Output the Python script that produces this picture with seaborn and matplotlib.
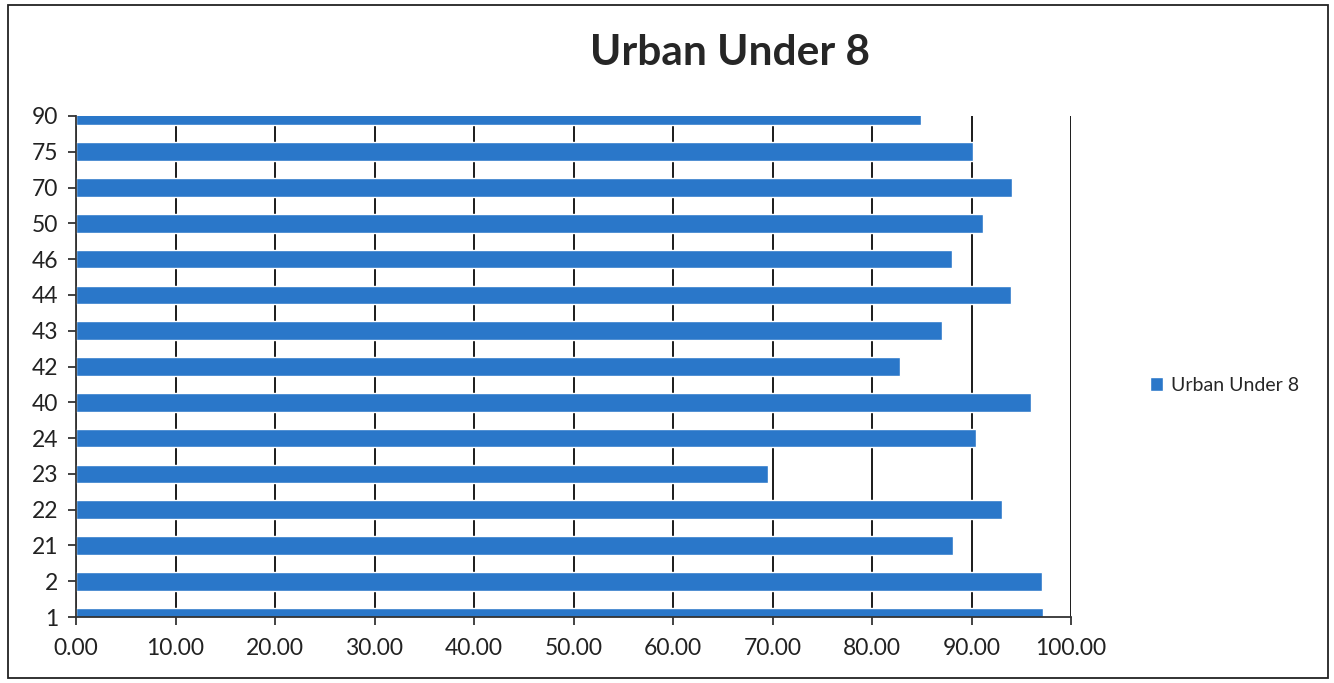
import numpy as np
import pandas as pd
import seaborn as sns
import matplotlib.pyplot as plt
from matplotlib.patches import Rectangle
from matplotlib.ticker import FormatStrFormatter

# Categories listed top to bottom as they appear on the chart
categories = ["90", "75", "70", "50", "46", "44", "43", "42", "40", "24", "23", "22", "21", "2", "1"]
values = [84.9, 90.2, 94.1, 91.2, 88.0, 94.0, 87.0, 82.8, 96.0, 90.5, 69.5, 93.1, 88.1, 97.1, 97.2]
series_name = "Urban Under 8"
x_ticks = np.arange(0, 101, 10)

df = pd.DataFrame({"category": categories, "value": values})

sns.set_theme(style="white")
plt.rcParams["font.family"] = ["Lato", "DejaVu Sans"]

bar_color = "#2a77c9"

fig = plt.figure(figsize=(13.34, 6.83), dpi=100)
ax = fig.add_axes([76 / 1334, 1 - 617 / 683, (1071 - 76) / 1334, (617 - 116) / 683])

sns.barplot(data=df, x="value", y="category", order=categories, orient="h",
            color=bar_color, width=0.52, saturation=1, label=series_name, ax=ax)

ax.set_xlim(0, 100)
ax.set_ylim(len(categories) - 1, 0)
ax.set_xticks(x_ticks)
ax.xaxis.set_major_formatter(FormatStrFormatter("%.2f"))
ax.set_xlabel("")
ax.set_ylabel("")

ax.grid(axis="x", color="#1a1a1a", linewidth=1.4)
ax.grid(axis="y", visible=False)
ax.set_axisbelow(True)

for side in ["top", "right"]:
    ax.spines[side].set_visible(False)
for side in ["left", "bottom"]:
    ax.spines[side].set_color("#333333")
    ax.spines[side].set_linewidth(1.3)

ax.tick_params(axis="both", which="major", labelsize=16.5, colors="#222222",
               direction="out", length=6, width=1.2, left=True, bottom=True)
ax.tick_params(axis="x", pad=9)
ax.tick_params(axis="y", pad=7)

ax.legend(loc="center left", bbox_to_anchor=(1132 / 1334, 1 - 385 / 683),
          bbox_transform=fig.transFigure, frameon=False, fontsize=14,
          handlelength=0.7, handleheight=0.7, handletextpad=0.4)

fig.text(730 / 1334, 1 - 53 / 683, "Urban Under 8", ha="center", va="center",
         fontsize=30.5, fontweight="bold", color="#262626")

fig.patches.append(Rectangle((8 / 1334, 1 - 678 / 683), 1320 / 1334, 673 / 683,
                             transform=fig.transFigure, fill=False,
                             edgecolor="#222222", linewidth=1.3))

fig.savefig("out.png", dpi=100)
